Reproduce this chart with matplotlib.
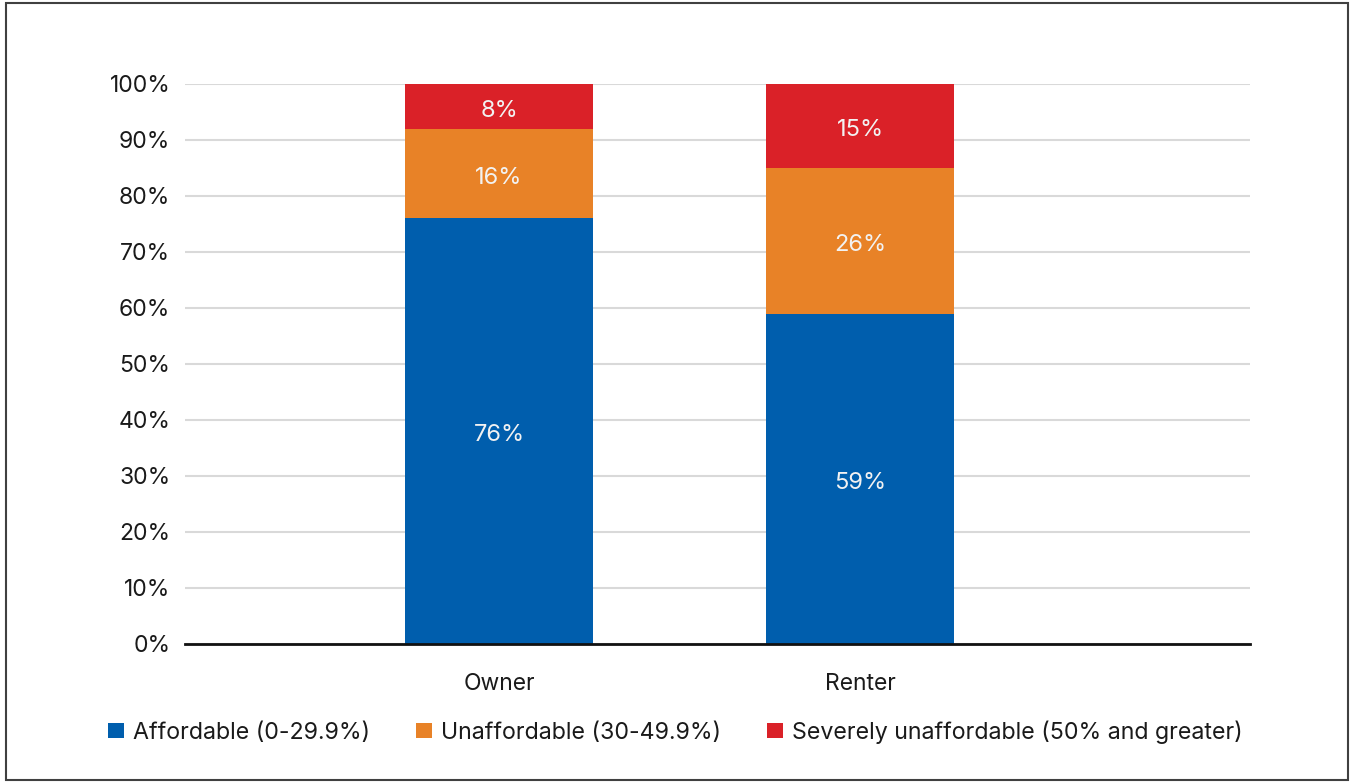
import matplotlib
matplotlib.use("Agg")
import matplotlib.pyplot as plt
from matplotlib.patches import Rectangle

plt.rcParams['font.family'] = ['Inter', 'DejaVu Sans']

tenure = ["Owner", "Renter"]
affordable = [76, 59]
unaffordable = [16, 26]
severe = [8, 15]
series_names = ["Affordable (0-29.9%)", "Unaffordable (30-49.9%)",
                "Severely unaffordable (50% and greater)"]
colors = ["#005EAD", "#E88227", "#DA2128"]
yticks = list(range(0, 101, 10))

W, H = 1351, 782
fig = plt.figure(figsize=(W / 100, H / 100), dpi=100)
ax = fig.add_axes([185 / W, 1 - 644 / H, (1250 - 185) / W, (644 - 84) / H])

x = list(range(len(tenure)))
bottom = [0] * len(tenure)
for vals, name, c in zip([affordable, unaffordable, severe], series_names, colors):
    bars = ax.bar(x, vals, width=0.52, bottom=bottom, color=c, label=name, zorder=3)
    for b, v, b0 in zip(bars, vals, bottom):
        ax.annotate(f"{v}%", (b.get_x() + b.get_width() / 2, b0 + v / 2),
                    xytext=(0, -3), textcoords="offset points",
                    ha="center", va="center", color="#F2F2F2", fontsize=17, zorder=4)
    bottom = [a + v for a, v in zip(bottom, vals)]

ax.set_xlim(-0.87, 2.08)
ax.set_ylim(0, 100)
ax.set_yticks(yticks)
ax.set_yticklabels([f"{t}%" for t in yticks])
ax.set_xticks(x)
ax.set_xticklabels(tenure)
ax.tick_params(axis="both", length=0, labelsize=16.5, colors="#1a1a1a")
ax.tick_params(axis="y", pad=10.5)
ax.tick_params(axis="x", pad=21)
ax.yaxis.grid(True, color="#D9D9D9", linewidth=1.5, zorder=0)
for s in ["top", "right", "left"]:
    ax.spines[s].set_visible(False)
ax.spines["bottom"].set_linewidth(2)
ax.spines["bottom"].set_color("#111111")
ax.spines["bottom"].set_zorder(5)

fig.legend(loc="center", bbox_to_anchor=(0.5, 1 - 732 / H), ncol=3, frameon=False,
           fontsize=16.7, handlelength=0.66, handleheight=0.66, handletextpad=0.4,
           columnspacing=2.0, labelcolor="#1a1a1a")

fig.patches.append(Rectangle((6 / W, 2 / H), (1348 - 6) / W, (779 - 2) / H,
                             transform=fig.transFigure, fill=False,
                             edgecolor="#404040", linewidth=1.5))

fig.savefig("out.png", dpi=100)
